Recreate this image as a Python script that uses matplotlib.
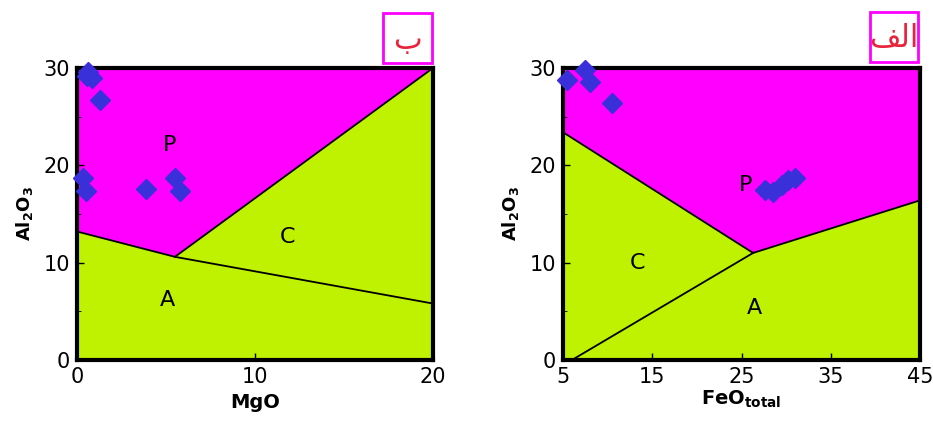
import matplotlib.pyplot as plt
from matplotlib.patches import Polygon, Rectangle

# --- data ---
# panel ب : MgO vs Al2O3
mgo_pts = [0.6, 0.85, 0.55, 1.3, 0.35, 0.5, 3.9, 5.5, 5.8]
al_mgo_pts = [29.6, 29.0, 29.2, 26.7, 18.7, 17.4, 17.6, 18.7, 17.4]
mgo_p_field = [(0, 30), (20, 30), (5.5, 10.6), (0, 13.2)]
mgo_line_a = [(0, 13.2), (5.5, 10.6), (20, 5.8)]
mgo_line_c = [(5.5, 10.6), (20, 30)]
mgo_labels = {"P": (5.2, 22.1), "C": (11.8, 12.6), "A": (5.1, 6.2)}

# panel الف : FeO total vs Al2O3
feo_pts = [5.4, 7.5, 8.0, 10.5, 27.6, 28.5, 29.5, 30.2, 31.0]
al_feo_pts = [28.8, 29.8, 28.6, 26.4, 17.5, 17.3, 18.0, 18.5, 18.7]
feo_p_field = [(5, 30), (45, 30), (45, 16.4), (26.3, 11.0), (5, 23.4)]
feo_line_pc = [(5, 23.4), (26.3, 11.0), (45, 16.4)]
feo_line_ca = [(6.0, 0), (26.3, 11.0)]
feo_labels = {"P": (25.4, 18.0), "C": (13.4, 10.0), "A": (26.5, 5.3)}

GREEN = "#bff200"
MAGENTA = "#ff00ff"
BLUE = "#3a30da"

fig = plt.figure(figsize=(9.33, 4.21), dpi=100)
ax1 = fig.add_axes([77/933, 1-360/421, 356/933, 292/421])
ax2 = fig.add_axes([563/933, 1-360/421, 357/933, 292/421])


def draw_panel(ax, xlim, p_field, lines, xs, ys, labels):
    ax.set_xlim(*xlim)
    ax.set_ylim(0, 30)
    ax.set_facecolor(GREEN)
    ax.add_patch(Polygon(p_field, closed=True, facecolor=MAGENTA, edgecolor="none", zorder=1))
    for ln in lines:
        ax.plot([p[0] for p in ln], [p[1] for p in ln], color="black", lw=1.3, zorder=2)
    ax.plot(xs, ys, "D", ms=10.5, color=BLUE, mec=BLUE, zorder=3, clip_on=False)
    for txt, (x, y) in labels.items():
        ax.text(x, y, txt, fontsize=16, ha="center", va="center", zorder=4)
    for s in ax.spines.values():
        s.set_linewidth(3)
    ax.set_yticks([0, 10, 20, 30])
    ax.set_yticks([5, 15, 25], minor=True)
    ax.tick_params(direction="in", labelsize=15, length=5, width=1, pad=5)
    ax.tick_params(which="minor", direction="in", length=3)
    ax.set_ylabel(r"Al$_\mathbf{2}$O$_\mathbf{3}$", fontsize=13, fontweight="bold", labelpad=6)


draw_panel(ax1, (0, 20), mgo_p_field, [mgo_line_a, mgo_line_c], mgo_pts, al_mgo_pts, mgo_labels)
ax1.set_xticks([0, 10, 20])
ax1.set_xlabel("MgO", fontsize=14, fontweight="bold", labelpad=4)

draw_panel(ax2, (5, 45), feo_p_field, [feo_line_pc, feo_line_ca], feo_pts, al_feo_pts, feo_labels)
ax2.set_xticks([5, 15, 25, 35, 45])
ax2.set_xlabel(r"FeO$_{\mathbf{total}}$", fontsize=14, fontweight="bold", labelpad=1)

# boxed Arabic panel tags (presentation forms, visual order)
for (x0, y0, w, h), tag in [((383, 13, 49, 50), "\ufe8f"), ((870, 12, 48, 50), "\ufed2\ufedf\ufe8d")]:
    fig.patches.append(Rectangle((x0/933, 1-(y0+h)/421), w/933, h/421, transform=fig.transFigure,
                                 facecolor="white", edgecolor=MAGENTA, lw=2))
    fig.text((x0+w/2)/933, 1-(y0+h/2+2)/421, tag, fontsize=22, color="#e8243c",
             ha="center", va="center", family="DejaVu Sans")

fig.savefig("out.png", dpi=100)
